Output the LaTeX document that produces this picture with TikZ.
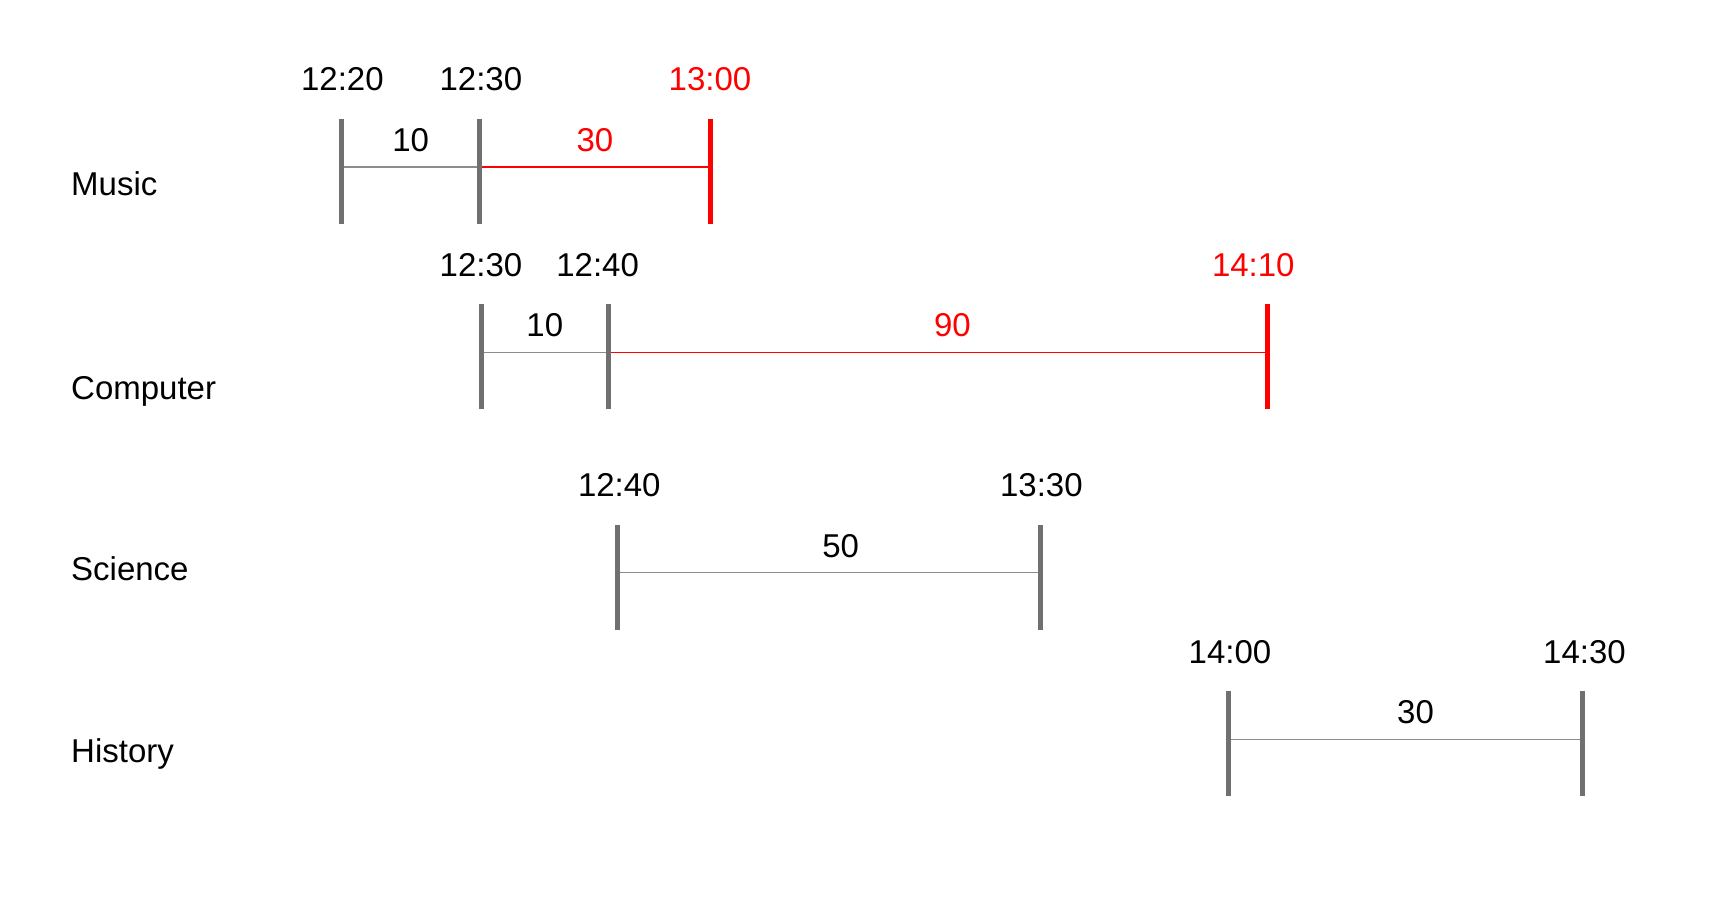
\documentclass[tikz,border=0pt]{standalone}
\usepackage{fontspec}
\setmainfont{Liberation Sans}
\usetikzlibrary{positioning}
\definecolor{tickgray}{HTML}{707070}
\definecolor{spangray}{HTML}{8C8C8C}
\definecolor{lateRed}{HTML}{FF0000}

\begin{document}
\begin{tikzpicture}[x=1pt,y=-1pt,
  every node/.style={font=\fontsize{33}{40}\selectfont,inner sep=0pt,text=black},
  subj/.style={anchor=base west},
  clock/.style={above=75.5pt of #1},
  mins/.style={above=14.5pt},
  tick/.style={line width=5pt,tickgray},
  span/.style={line width=1.5pt,spangray},
  late/.style={lateRed,text=lateRed}
]
  \useasboundingbox (0,0) rectangle (1710,898);

  \node[subj] (music)    at (71,195) {Music};
  \node[subj] (computer) at (71,399) {Computer};
  \node[subj] (science)  at (71,580) {Science};
  \node[subj] (history)  at (71,762) {History};

  \coordinate (m1) at (341.4,166.9);
  \coordinate (m2) at (479.9,166.9);
  \coordinate (m3) at (710,166.9);
  \coordinate (c1) at (481,352.3);
  \coordinate (c2) at (608.6,352.3);
  \coordinate (c3) at (1267.3,352.3);
  \coordinate (s1) at (617.3,572.6);
  \coordinate (s2) at (1040.4,572.6);
  \coordinate (h1) at (1228,739.4);
  \coordinate (h2) at (1582.5,739.4);

  \draw[span] (m1) -- node[mins]{10} (m2);
  \draw[span,late] (m2) -- node[mins,late]{30} (m3);
  \draw[span] (c1) -- node[mins]{10} (c2);
  \draw[span,late] (c2) -- node[mins,late,pos=0.522]{90} (c3);
  \draw[span] (s1) -- node[mins,pos=0.528]{50} (s2);
  \draw[span] (h1) -- node[mins,pos=0.529]{30} (h2);

  \foreach \p in {m1,m2,c1,c2,s1,s2,h1,h2}
    \draw[tick] ([yshift=48pt]\p) -- ([yshift=-57pt]\p);
  \foreach \p in {m3,c3}
    \draw[tick,late] ([yshift=48pt]\p) -- ([yshift=-57pt]\p);

  \node[clock=m1,xshift=1pt] (m1t) {12:20};
  \node[clock=m2,xshift=1pt] (m2t) {12:30};
  \node[clock=m3,late] (m3t) {13:00};
  \node[clock=c1] (c1t) {12:30};
  \node[clock=c2,xshift=-11pt] (c2t) {12:40};
  \node[clock=c3,xshift=-14pt,late] (c3t) {14:10};
  \node[clock=s1,xshift=2pt] (s1t) {12:40};
  \node[clock=s2,xshift=1pt] (s2t) {13:30};
  \node[clock=h1,xshift=2pt] (h1t) {14:00};
  \node[clock=h2,xshift=2pt] (h2t) {14:30};
\end{tikzpicture}
\end{document}
